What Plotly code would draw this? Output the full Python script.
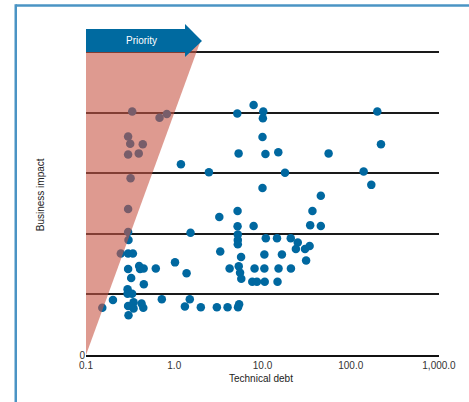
import plotly.graph_objects as go

# Technical debt (x, log scale) and business impact (y) of each item
tech_debt = [
    0.334, 0.681, 0.824, 5.18, 7.93, 10.2, 10.1, 200,
    0.30, 0.317, 0.44, 0.30, 0.396, 10.0, 220, 5.36, 10.8, 15.1, 56.1,
    1.19, 2.47, 18.0, 140, 171, 0.32, 10.0, 45.8,
    0.30, 5.22, 36.8, 3.24, 5.22, 7.93, 34.7, 45.8, 0.30, 1.53, 0.303,
    5.25, 5.25, 5.25, 10.9, 14.6, 20.9, 25.1, 23.9, 30.3, 34.2,
    0.248, 0.30, 0.34, 3.32, 5.72, 10.5, 16.6, 31.2, 1.02,
    0.40, 0.41, 0.45, 0.30, 0.618, 4.24, 5.38, 8.13, 10.5, 15.2, 21.0,
    1.38, 5.57, 5.75, 0.325, 0.452, 7.66, 8.65, 10.6, 14.8,
    0.296, 0.296, 0.333, 0.202, 0.723, 1.50, 0.153, 0.30, 0.346, 0.346,
    0.426, 0.446, 0.303, 1.32, 2.00, 3.04, 4.02, 5.28, 5.43,
]
business_impact = [
    4.02, 3.92, 3.98, 3.99, 4.13, 4.02, 3.91, 4.02,
    3.61, 3.49, 3.48, 3.31, 3.33, 3.60, 3.48, 3.33, 3.32, 3.35, 3.33,
    3.15, 3.02, 3.01, 3.03, 2.81, 2.92, 2.76, 2.63,
    2.41, 2.38, 2.38, 2.28, 2.125, 2.13, 2.145, 2.13, 2.03, 2.02, 1.90,
    1.99, 1.90, 1.83, 1.93, 1.93, 1.93, 1.86, 1.75, 1.75, 1.80,
    1.675, 1.675, 1.675, 1.71, 1.62, 1.66, 1.66, 1.56, 1.53,
    1.47, 1.42, 1.43, 1.42, 1.43, 1.43, 1.465, 1.43, 1.43, 1.43, 1.43,
    1.35, 1.36, 1.26, 1.27, 1.17, 1.21, 1.21, 1.21, 1.21,
    1.085, 1.01, 1.01, 0.91, 0.92, 0.92, 0.78, 0.81, 0.87, 0.77,
    0.85, 0.78, 0.655, 0.80, 0.79, 0.79, 0.79, 0.79, 0.84,
]

# Priority wedge (technical debt / business impact corners)
wedge_x = [0.1, 1.98, 0.1, 0.1]
wedge_y = [0, 5.18, 5.18, 0]

x_tickvals = [0.1, 1, 10, 100, 1000]
x_ticktext = ["0.1", "1.0", "10.0", "100.0", "1,000.0"]
y_tickvals = [0, 1, 2, 3, 4, 5]
y_ticktext = ["0", "", "", "", "", ""]

FONT = "Liberation Sans Narrow, Arial Narrow, Liberation Sans, Arial"
BLUE = "#0068a0"

fig = go.Figure()
fig.add_trace(go.Scatter(
    x=tech_debt, y=business_impact, mode="markers",
    marker=dict(size=8.5, color=BLUE, line=dict(width=0)),
    hoverinfo="x+y", showlegend=False,
))
fig.add_trace(go.Scatter(
    x=wedge_x, y=wedge_y, mode="lines", fill="toself",
    fillcolor="rgba(200,87,70,0.6)", line=dict(width=0),
    hoverinfo="skip", showlegend=False,
))

# Priority arrow (paper coords)
arrow_path = ("M 0 0.979 L 0.2805 0.979 L 0.2805 0.994 L 0.3286 0.943 "
              "L 0.2805 0.895 L 0.2805 0.910 L 0 0.910 Z")
shapes = [
    dict(type="path", xref="paper", yref="paper", path=arrow_path,
         fillcolor="#006aa0", line=dict(width=0), layer="above"),
    # blue frame
    dict(type="line", xref="paper", yref="paper", x0=-0.199, x1=1.09,
         y0=1.0495, y1=1.0495, line=dict(color="#4a94c4", width=2.5)),
    dict(type="line", xref="paper", yref="paper", x0=-0.199, x1=-0.199,
         y0=1.053, y1=-0.15, line=dict(color="#4a94c4", width=2.5)),
]

annotations = [
    dict(text="Priority", xref="paper", yref="paper", x=0.157, y=0.944,
         xanchor="center", yanchor="middle", showarrow=False,
         font=dict(family=FONT, size=10, color="white")),
    dict(text="Technical debt", xref="paper", yref="paper", x=0.497, y=-0.072,
         xanchor="center", yanchor="middle", showarrow=False,
         font=dict(family=FONT, size=10, color="#222222")),
    dict(text="Business impact", xref="paper", yref="paper", x=-0.13, y=0.48,
         xanchor="center", yanchor="middle", textangle=-90, showarrow=False,
         font=dict(family=FONT, size=10, color="#222222")),
]

fig.update_layout(
    width=469, height=402,
    margin=dict(l=86, r=30, t=22, b=47),
    paper_bgcolor="white", plot_bgcolor="white",
    shapes=shapes, annotations=annotations,
    font=dict(family=FONT, size=10, color="#333333"),
    xaxis=dict(type="log", range=[-1, 3], tickvals=x_tickvals, ticktext=x_ticktext,
               showgrid=False, zeroline=False, showline=True, linecolor="#111111",
               linewidth=1.5, ticks="", tickfont=dict(family=FONT, size=10, color="#333333")),
    yaxis=dict(range=[0, 5.5], tickvals=y_tickvals, ticktext=y_ticktext,
               showgrid=True, gridcolor="#1a1a1a", gridwidth=1.5, zeroline=False,
               showline=False, ticks="", tickfont=dict(family=FONT, size=10, color="#333333")),
)

fig.write_html("out.html", config={"displayModeBar": False},
               post_script="document.body.style.margin='0';document.body.style.overflow='hidden';")
